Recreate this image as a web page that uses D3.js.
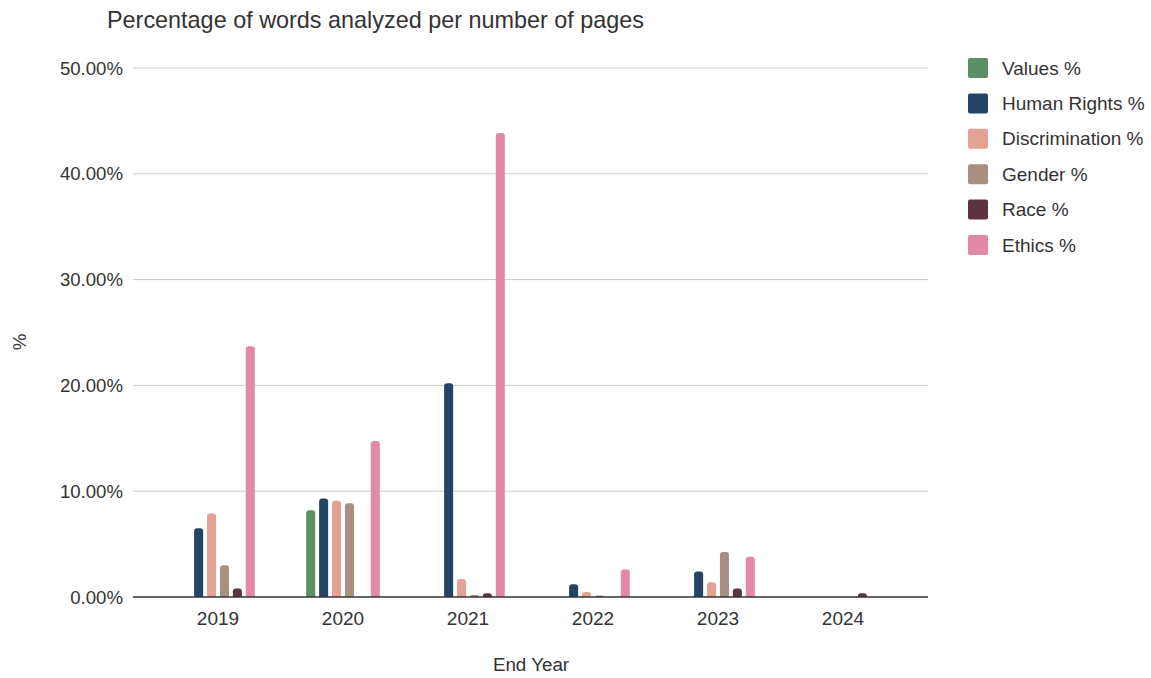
<!DOCTYPE html>
<html lang="en">
<head>
<meta charset="UTF-8">
<title>Percentage of words analyzed per number of pages</title>
<script src="https://d3js.org/d3.v7.min.js"></script>
<style>
  body { margin: 0; background: #fff; font-family: "Liberation Sans", Arial, sans-serif; }
  svg { display: block; }
</style>
</head>
<body>
<div id="chart"></div>
<script>
// data
const years = ["2019", "2020", "2021", "2022", "2023", "2024"];
const seriesNames = ["Values %", "Human Rights %", "Discrimination %", "Gender %", "Race %", "Ethics %"];
const seriesColors = ["#5b8f65", "#244466", "#e3a294", "#a98f82", "#5d3340", "#e389a5"];
const valuesPct = [0, 8.2, 0, 0, 0, 0];
const humanRightsPct = [6.5, 9.3, 20.2, 1.2, 2.4, 0];
const discriminationPct = [7.9, 9.1, 1.7, 0.47, 1.4, 0];
const genderPct = [3.0, 8.85, 0.2, 0.05, 4.25, 0];
const racePct = [0.8, 0, 0.35, 0, 0.8, 0.35];
const ethicsPct = [23.7, 14.75, 43.85, 2.6, 3.8, 0];
const yTicks = [0, 10, 20, 30, 40, 50];

const allSeries = [valuesPct, humanRightsPct, discriminationPct, genderPct, racePct, ethicsPct];

const width = 1151, height = 678;
const margin = { top: 68, right: 223, bottom: 81, left: 133 };
const textColor = "#333";

const svg = d3.select("#chart").append("svg")
  .attr("width", width)
  .attr("height", height);

const x0 = d3.scaleBand()
  .domain(years)
  .range([margin.left, width - margin.right])
  .paddingInner(0)
  .paddingOuter(0.18);

const bw = x0.bandwidth();
const x1 = d3.scaleBand()
  .domain(seriesNames)
  .range([bw * 0.19, bw * 0.81])
  .paddingInner(0.3)
  .paddingOuter(0.15);

const y = d3.scaleLinear()
  .domain([0, 50])
  .range([height - margin.bottom, margin.top]);

// gridlines
svg.append("g")
  .selectAll("line")
  .data(yTicks.filter(d => d > 0))
  .join("line")
  .attr("x1", margin.left)
  .attr("x2", width - margin.right)
  .attr("y1", d => y(d))
  .attr("y2", d => y(d))
  .attr("stroke", "#cccccc")
  .attr("stroke-width", 1);

// y tick labels
svg.append("g")
  .selectAll("text")
  .data(yTicks)
  .join("text")
  .attr("x", margin.left - 10)
  .attr("y", d => y(d))
  .attr("dy", "0.35em")
  .attr("text-anchor", "end")
  .attr("font-size", 18.6)
  .attr("fill", textColor)
  .text(d => d.toFixed(2) + "%");

// rounded-top bar path
function barPath(xp, w, yTop, yBase) {
  const h = yBase - yTop;
  if (h <= 0) return "";
  const r = Math.min(3, h, w / 2);
  return `M${xp},${yBase}V${yTop + r}Q${xp},${yTop} ${xp + r},${yTop}` +
    `H${xp + w - r}Q${xp + w},${yTop} ${xp + w},${yTop + r}V${yBase}Z`;
}

// bars
const rows = [];
years.forEach((yr, i) => {
  seriesNames.forEach((s, j) => {
    rows.push({ year: yr, series: s, color: seriesColors[j], value: allSeries[j][i] });
  });
});

svg.append("g")
  .selectAll("path")
  .data(rows.filter(d => d.value > 0))
  .join("path")
  .attr("d", d => {
    const xp = x0(d.year) + x1(d.series);
    return barPath(xp, x1.bandwidth(), Math.min(y(d.value), y(0) - 1.5), y(0));
  })
  .attr("fill", d => d.color);

// baseline
svg.append("line")
  .attr("x1", margin.left)
  .attr("x2", width - margin.right)
  .attr("y1", y(0))
  .attr("y2", y(0))
  .attr("stroke", "#333")
  .attr("stroke-width", 1.5);

// x labels
svg.append("g")
  .selectAll("text")
  .data(years)
  .join("text")
  .attr("x", d => x0(d) + bw / 2)
  .attr("y", y(0) + 28)
  .attr("text-anchor", "middle")
  .attr("font-size", 19)
  .attr("fill", textColor)
  .text(d => d);

// title
svg.append("text")
  .attr("x", 107)
  .attr("y", 28)
  .attr("font-size", 23.4)
  .attr("fill", textColor)
  .text("Percentage of words analyzed per number of pages");

// axis titles
svg.append("text")
  .attr("x", 531)
  .attr("y", 671)
  .attr("text-anchor", "middle")
  .attr("font-size", 18.8)
  .attr("fill", textColor)
  .text("End Year");

svg.append("text")
  .attr("transform", "translate(26,342) rotate(-90)")
  .attr("text-anchor", "middle")
  .attr("font-size", 18.8)
  .attr("fill", textColor)
  .text("%");

// legend
const legend = svg.append("g")
  .selectAll("g")
  .data(seriesNames)
  .join("g")
  .attr("transform", (d, i) => `translate(968,${68 + i * 35.4})`);

legend.append("rect")
  .attr("x", 0)
  .attr("y", -10)
  .attr("width", 20)
  .attr("height", 20)
  .attr("rx", 2)
  .attr("fill", (d, i) => seriesColors[i]);

legend.append("text")
  .attr("x", 34)
  .attr("y", 0)
  .attr("dy", "0.35em")
  .attr("font-size", 19)
  .attr("fill", textColor)
  .text(d => d);
</script>
</body>
</html>
